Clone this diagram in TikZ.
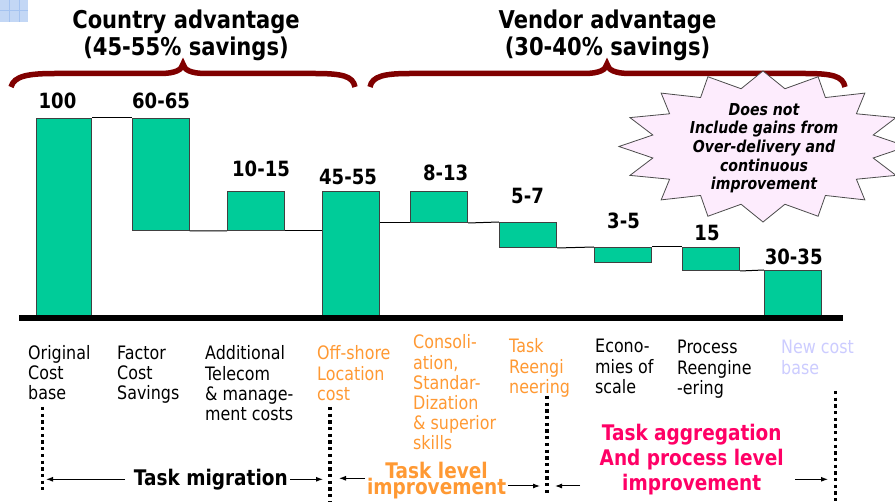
\documentclass[tikz,border=0pt]{standalone}
\usepackage{fontspec}
\setmainfont{DejaVu Sans}[FakeStretch=0.86]
\usetikzlibrary{arrows.meta}
\definecolor{bargreen}{RGB}{0,204,153}
\definecolor{bracered}{RGB}{128,0,0}
\definecolor{lblorange}{RGB}{255,153,51}
\definecolor{lblmagenta}{RGB}{255,0,102}
\definecolor{lbllav}{RGB}{204,204,255}
\definecolor{starfill}{RGB}{253,236,253}
\definecolor{iconblue}{RGB}{195,215,245}
\definecolor{icongrid}{RGB}{165,195,240}
\newcommand\myfs[2]{\fontsize{#1}{#2}\selectfont}
\newcommand\tightskip{\lineskiplimit=-20pt\relax}
\begin{document}
\begin{tikzpicture}[x=1pt,y=-1pt,
  bar/.style={draw=black!75, line width=1pt, fill=bargreen, minimum width=57pt, anchor=north west, inner sep=0},
  wire/.style={black, line width=1pt},
  val/.style={font=\bfseries\myfs{21}{24}, anchor=base, inner sep=0},
  title/.style={font=\bfseries\myfs{24.5}{27}, align=center, anchor=north, inner sep=0},
  lbl/.style={font=\myfs{18.5}{20}, align=left, anchor=north west, inner sep=0},
  brace/.style={draw=bracered, line width=5.5pt},
  dots/.style={line width=3.3pt, dash pattern=on 3.3pt off 3.4pt},
  arr/.style={line width=1pt, -{Latex[length=7pt,width=5pt]}},
]
\useasboundingbox (0,0) rectangle (895,502);
\fill[white] (0,0) rectangle (895,502);
% corner icon
\fill[iconblue] (0,0) rectangle (28,22);
\draw[icongrid, line width=1pt] (9,0)--(9,22) (19,0)--(19,22) (0,11)--(28,11);

% titles
\node[title] (t1) at (186,9.1) {\strut Country advantage\\(45-55\% savings)};
\node[title] (t2) at (607.5,9.1) {\strut Vendor advantage\\(30-40\% savings)};

% braces
\draw[brace] (11,87) .. controls (14,76) and (28,73.5) .. (55,73.5) -- (160,73.5)
  .. controls (175,73.5) and (182,70) .. (183,64) .. controls (184,70) and (191,73.5) .. (206,73.5)
  -- (315,73.5) .. controls (342,73.5) and (353,76) .. (355,87);
\draw[brace] (370,87) .. controls (372,76) and (385,73.5) .. (410,73.5) -- (584,73.5)
  .. controls (599,73.5) and (606,70) .. (607,64) .. controls (608,70) and (615,73.5) .. (630,73.5)
  -- (805,73.5) .. controls (832,73.5) and (843,76) .. (845,87);

% starburst
\filldraw[fill=starfill, draw=black!70, line width=0.8pt]
  plot[samples at={0,...,31}] ({763+144*(1-0.22*mod(\x,2))*cos(\x*11.25)}, {146.5-75.5*(1-0.22*mod(\x,2))*sin(\x*11.25)}) -- cycle;
\node[font=\bfseries\itshape\myfs{16.4}{18.7}, align=center, anchor=north, inner sep=0] (st) at (764,101.9)
  {\strut Does not\\Include gains from\\Over-delivery and\\continuous\\improvement};

% bars
\node[bar, minimum width=55.6pt, minimum height=200pt] (b1) at (35.7,118) {};
\node[bar, minimum height=112pt] (b2) at (131.7,118) {};
\node[bar, minimum height=39.3pt] (b3) at (227,190.7) {};
\node[bar, minimum height=127.3pt] (b4) at (322,190.7) {};
\node[bar, minimum height=31.3pt] (b5) at (410,190.7) {};
\node[bar, minimum height=25pt] (b6) at (499,222) {};
\node[bar, minimum height=15pt] (b7) at (594,247) {};
\node[bar, minimum height=23pt] (b8) at (682,247) {};
\node[bar, minimum height=48pt] (b9) at (764,270) {};

\draw[wire] (b1.north east) -- (b2.north west);
\draw[wire] (b2.south east) -- (b3.south west);
\draw[wire] (b3.south east) -- (b3.south east -| b4.west);
\draw[wire] (b5.south west -| b4.east) -- (b5.south west);
\draw[wire] (b5.south east) -- (b6.north west);
\draw[wire] (b6.south east) -- (b7.north west);
\draw[wire] (b7.north east) -- (b8.north west);
\draw[wire] (b8.south east) -- (b9.north west);

% axis
\coordinate (axl) at (19,318.3);
\coordinate (axr) at (843,318.3);
\draw[line width=6pt] (axl) -- (axr);

% values
\node[val] (v1) at (57.5,109) {100};
\node[val] (v2) at (161,109) {60-65};
\node[val] (v3) at (261,176.7) {10-15};
\node[val] (v4) at (348,185) {45-55};
\node[val] (v5) at (445.7,181) {8-13};
\node[val] (v6) at (527.5,204) {5-7};
\node[val] (v7) at (623.5,229) {3-5};
\node[val] (v8) at (707,240.7) {15};
\node[val] (v9) at (793.7,265) {30-35};

% labels
\node[lbl] (l1) at (28,345) {\strut Original\\Cost\\base};
\node[lbl] (l2) at (117,345) {\strut Factor\\Cost\\Savings};
\node[lbl] (l3) at (205,345) {\strut Additional\\Telecom\\\& manage-\\ment costs};
\node[lbl, text=lblorange] (l4) at (317,345) {\strut Off-shore\\Location\\cost};
\node[lbl, text=lblorange] (l5) at (413,334) {\strut Consoli-\\ation,\\Standar-\\Dization\\\& superior\\skills};
\node[lbl, text=lblorange] (l6) at (509,338) {\strut Task\\Reengi\\neering};
\node[lbl] (l7) at (595,338) {\strut Econo-\\mies of\\scale};
\node[lbl] (l8) at (677,339) {\strut Process\\Reengine\\-ering};
\node[lbl, text=lbllav] (l9) at (781,339) {\strut New cost\\base};

% dotted separators
\coordinate (d1t) at (42.7,407); \coordinate (d1b) at (42.7,490);
\coordinate (d2t) at (330,407); \coordinate (d2b) at (330,502);
\coordinate (d3t) at (547,396); \coordinate (d3b) at (547,493);
\coordinate (d4t) at (835.7,391); \coordinate (d4b) at (835.7,502);
\draw[dots] (d1t) -- (d1b);
\draw[dots] (d2t) -- (d2b);
\draw[dots] (d3t) -- (d3b);
\draw[dots] (d4t) -- (d4b);

% phase labels
\node[font=\bfseries\myfs{21.5}{24}, anchor=base, inner sep=0] (tm) at (210.8,485.7) {Task migration};
\node[font=\bfseries\myfs{21.5}{16.6}\tightskip, text=lblorange, align=center, anchor=north, inner sep=0] (tl) at (436.6,461.5) {Task level\\improvement};
\node[font=\bfseries\myfs{21.5}{25}, text=lblmagenta, align=center, anchor=north, inner sep=0] (ta) at (691.7,423.2) {\strut Task aggregation\\And process level\\improvement};

% arrows
\coordinate (a1s) at (125,479.3); \coordinate (a1e) at (46,479.3);
\coordinate (a2s) at (290,479.3); \coordinate (a2e) at (323,479.3);
\coordinate (a3s) at (365,478.3); \coordinate (a3e) at (339,478.3);
\coordinate (a4s) at (508,486); \coordinate (a4e) at (540,486);
\coordinate (a5s) at (580,486); \coordinate (a5e) at (555,486);
\coordinate (a6s) at (795,479.3); \coordinate (a6e) at (828,479.3);
\draw[arr] (a1s) -- (a1e);
\draw[arr] (a2s) -- (a2e);
\draw[arr] (a3s) -- (a3e);
\draw[arr] (a4s) -- (a4e);
\draw[arr] (a5s) -- (a5e);
\draw[arr] (a6s) -- (a6e);
\end{tikzpicture}
\end{document}
